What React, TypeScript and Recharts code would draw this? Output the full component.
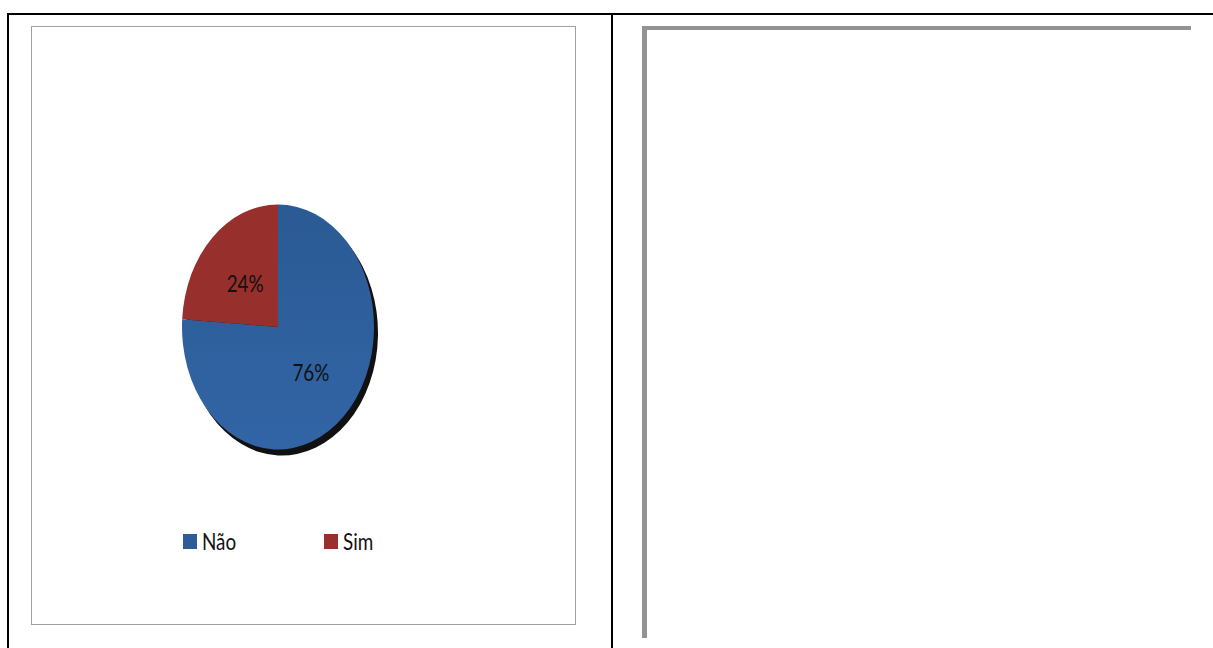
import { PieChart, Pie, Cell, Legend } from "recharts";

const categories = ["Não", "Sim"];
const values = [76, 24];
const colors = ["url(#naoFill)", "#972F2D"];
const legendColors = ["#2D5D98", "#972F2D"];

const data = categories.map((name, i) => ({ name, value: values[i] }));

const STRETCH = 1.276; // the pie is drawn as a tall ellipse
const SQUEEZE = 0.82; // narrow the glyphs a little, closer to Calibri
const FONT = "Lato, 'Open Sans', sans-serif";

function point(cx: number, cy: number, rx: number, ry: number, deg: number) {
  const a = (deg * Math.PI) / 180;
  return [cx + rx * Math.cos(a), cy - ry * Math.sin(a)];
}

function EllipseSector(props: any) {
  const { cx, cy, outerRadius, startAngle, endAngle, fill } = props;
  const rx = outerRadius;
  const ry = outerRadius * STRETCH;
  const [x1, y1] = point(cx, cy, rx, ry, startAngle);
  const [x2, y2] = point(cx, cy, rx, ry, endAngle);
  const large = Math.abs(endAngle - startAngle) > 180 ? 1 : 0;
  const sweep = startAngle > endAngle ? 1 : 0;
  const d = `M${cx},${cy} L${x1},${y1} A${rx},${ry} 0 ${large} ${sweep} ${x2},${y2} Z`;
  return <path d={d} fill={fill} stroke="none" />;
}

function renderLabel(props: any) {
  const { cx, cy, midAngle, outerRadius, value } = props;
  const [x, y] = point(cx, cy, outerRadius * 0.5, outerRadius * STRETCH * 0.5, midAngle);
  return (
    <text
      x={0}
      y={0}
      transform={`translate(${x},${y}) scale(${SQUEEZE},1)`}
      textAnchor="middle"
      dominantBaseline="central"
      fill="#111"
      fontSize={23}
      fontFamily={FONT}
    >
      {`${value}%`}
    </text>
  );
}

function LegendContent() {
  return (
    <div style={{ display: "flex", paddingLeft: 151, fontFamily: FONT, fontSize: 23 }}>
      {categories.map((c, i) => (
        <div key={c} style={{ display: "flex", alignItems: "center", width: 141 }}>
          <span
            style={{
              display: "inline-block",
              width: 14,
              height: 15,
              background: legendColors[i],
              marginRight: 5,
            }}
          />
          <span
            style={{
              display: "inline-block",
              color: "#111",
              transform: `scaleX(${SQUEEZE})`,
              transformOrigin: "left center",
            }}
          >
            {c}
          </span>
        </div>
      ))}
    </div>
  );
}

export default function App() {
  return (
    <div style={{ position: "absolute", left: 0, top: 0, width: 1213, height: 648, background: "#fff", overflow: "hidden" }}>
      {/* table borders */}
      <div style={{ position: "absolute", left: 7, top: 13, width: 1206, height: 2, background: "#000" }} />
      <div style={{ position: "absolute", left: 7, top: 13, width: 2, height: 635, background: "#000" }} />
      <div style={{ position: "absolute", left: 611, top: 13, width: 2, height: 635, background: "#000" }} />

      {/* right cell empty frame */}
      <div style={{ position: "absolute", left: 642, top: 26, width: 5, height: 612, background: "#939393" }} />
      <div style={{ position: "absolute", left: 642, top: 26, width: 549, height: 4, background: "#939393" }} />

      {/* chart box */}
      <div
        style={{
          position: "absolute",
          left: 31,
          top: 26,
          width: 543,
          height: 597,
          border: "1px solid #a0a0a0",
          background: "#fff",
        }}
      >
        <PieChart width={543} height={597} margin={{ top: 0, right: 0, bottom: 0, left: 0 }}>
          <defs>
            <linearGradient id="naoFill" x1="0" y1="0" x2="0" y2="1">
              <stop offset="0%" stopColor="#2B5A94" />
              <stop offset="100%" stopColor="#3265A6" />
            </linearGradient>
          </defs>
          <Pie
            data={data}
            dataKey="value"
            nameKey="name"
            cx={250}
            cy={306}
            outerRadius={96}
            startAngle={90}
            endAngle={-270}
            stroke="none"
            fill="#111"
            shape={EllipseSector}
            legendType="none"
            isAnimationActive={false}
          />
          <Pie
            data={data}
            dataKey="value"
            nameKey="name"
            cx={246}
            cy={300}
            outerRadius={96}
            startAngle={90}
            endAngle={-270}
            stroke="none"
            shape={EllipseSector}
            label={renderLabel}
            labelLine={false}
            isAnimationActive={false}
          >
            {data.map((d, i) => (
              <Cell key={d.name} fill={colors[i]} />
            ))}
          </Pie>
          <Legend
            content={<LegendContent />}
            wrapperStyle={{ position: "absolute", top: 500, left: 0, width: 543 }}
          />
        </PieChart>
      </div>
    </div>
  );
}
